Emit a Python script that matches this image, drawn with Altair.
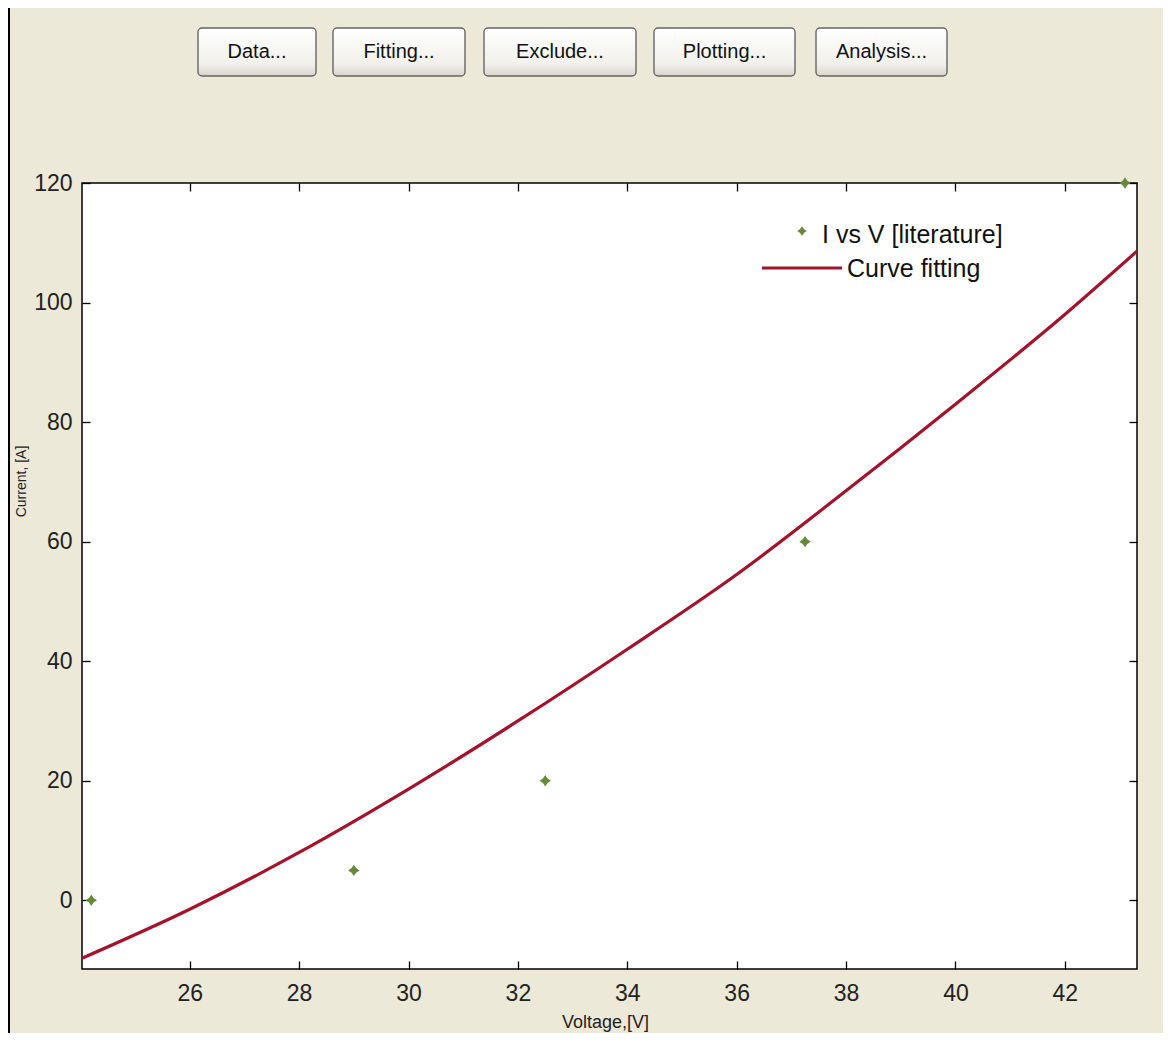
import altair as alt
import pandas as pd

# ---------------- data ----------------
fit_voltage = [24.03, 26, 28, 30, 32, 34, 36, 38, 40, 42, 43.32]
fit_current = [-9.7, -1.5, 8.0, 18.6, 30.0, 42.0, 54.5, 68.5, 83.0, 98.0, 108.6]
lit_voltage = [24.2, 29.0, 32.5, 37.25, 43.1]
lit_current = [0, 5, 20, 60, 120]
x_ticks = [26, 28, 30, 32, 34, 36, 38, 40, 42]
y_ticks = [0, 20, 40, 60, 80, 100, 120]
button_labels = ["Data...", "Fitting...", "Exclude...", "Plotting...", "Analysis..."]
legend_labels = ["I vs V [literature]", "Curve fitting"]
x_title = "Voltage,[V]"
y_title = "Current, [A]"

fit_df = pd.DataFrame({"V": fit_voltage, "I": fit_current})
lit_df = pd.DataFrame({"V": lit_voltage, "I": lit_current})

# ---------------- layout (pixels) ----------------
W, H = 1055, 786
TOTAL_W, TOTAL_H = 1155, 1025
PAD = {"left": 74, "top": 175, "right": TOTAL_W - 74 - W, "bottom": TOTAL_H - 175 - H}
OX, OY = 82, 183  # page position of plot origin
def px(x):
    return x - OX
def py(y):
    return y - OY

FONT = "Liberation Sans, Arial, Helvetica, sans-serif"
RED = "#A3132B"
GREEN = "#66893A"
STAR = "M0,-1L0.4,-0.4L1,0L0.4,0.4L0,1L-0.4,0.4L-1,0L-0.4,-0.4Z"

xs = alt.Scale(domain=[24.03, 43.32], nice=False, zero=False)
ys = alt.Scale(domain=[-11.5, 120], nice=False, zero=False)

tick_axis = dict(labels=False, domain=False, grid=False, ticks=True, tickSize=8,
                 tickColor="black", tickWidth=1.3, title=None)

line = alt.Chart(fit_df).mark_line(color=RED, strokeWidth=3.2, interpolate="monotone").encode(
    x=alt.X("V:Q", scale=xs, axis=alt.Axis(
        orient="bottom", values=x_ticks, ticks=False, domain=False, grid=False,
        labelFont=FONT, labelFontSize=23, labelColor="#222", labelPadding=13,
        labelFlush=False, labelOverlap=False,
        title=x_title, titleFont=FONT, titleFontSize=18, titleFontWeight="normal",
        titleColor="#222", titleX=523, titleY=58, titleBaseline="alphabetic",
        titleAlign="center")),
    y=alt.Y("I:Q", scale=ys, axis=alt.Axis(
        orient="left", values=y_ticks, ticks=False, domain=False, grid=False,
        labelFont=FONT, labelFontSize=23, labelColor="#222", labelPadding=10,
        labelFlush=False, labelOverlap=False,
        title=y_title, titleFont=FONT, titleFontSize=14, titleFontWeight="normal",
        titleColor="#222", titleX=-61, titleY=298, titleAngle=270,
        titleBaseline="middle", titleAlign="center")),
)

points = alt.Chart(lit_df).mark_point(shape=STAR, filled=True, size=130, color=GREEN, opacity=1).encode(
    x=alt.X("V:Q", scale=xs, axis=alt.Axis(orient="top", offset=-H, values=x_ticks, **tick_axis)),
    y=alt.Y("I:Q", scale=ys, axis=alt.Axis(orient="right", offset=-W, values=y_ticks, **tick_axis)),
)

ticks2 = alt.Chart(lit_df).mark_point(opacity=0).encode(
    x=alt.X("V:Q", scale=xs, axis=alt.Axis(orient="bottom", offset=-H, values=x_ticks, **tick_axis)),
    y=alt.Y("I:Q", scale=ys, axis=alt.Axis(orient="left", offset=-W, values=y_ticks, **tick_axis)),
)

layers = [line, points, ticks2]

# legend
leg1 = pd.DataFrame({"label": [legend_labels[0]]})
leg2 = pd.DataFrame({"label": [legend_labels[1]]})
layers.append(alt.Chart(leg1).mark_point(shape=STAR, filled=True, size=90, color=GREEN, opacity=1).encode(
    x=alt.value(px(802)), y=alt.value(py(231))))
layers.append(alt.Chart(leg1).mark_text(align="left", baseline="alphabetic", font=FONT, fontSize=25, color="#111").encode(
    x=alt.value(px(822)), y=alt.value(py(243)), text="label:N"))
layers.append(alt.Chart(leg2).mark_rule(color=RED, strokeWidth=3.2).encode(
    x=alt.value(px(762)), x2=alt.value(px(842)), y=alt.value(py(268))))
layers.append(alt.Chart(leg2).mark_text(align="left", baseline="alphabetic", font=FONT, fontSize=25, color="#111").encode(
    x=alt.value(px(847)), y=alt.value(py(277)), text="label:N"))

# buttons
button_left = [198, 333, 484, 654, 816]
button_right = [316, 465, 636, 795, 947]
btn_top, btn_bottom = 28, 76
grad = alt.LinearGradient(gradient="linear", x1=0, x2=0, y1=0, y2=1, stops=[
    alt.GradientStop(offset=0, color="#FFFFFF"),
    alt.GradientStop(offset=0.75, color="#F1F0EB"),
    alt.GradientStop(offset=1, color="#D9D5CB")])
for lbl, l, r in zip(button_labels, button_left, button_right):
    bdf = pd.DataFrame({"label": [lbl]})
    layers.append(alt.Chart(bdf).mark_rect(fill=grad, stroke="#666666", strokeWidth=1.4, cornerRadius=4).encode(
        x=alt.value(px(l)), x2=alt.value(px(r)), y=alt.value(py(btn_top)), y2=alt.value(py(btn_bottom))))
    layers.append(alt.Chart(bdf).mark_text(align="center", baseline="middle", font=FONT, fontSize=20, color="#111").encode(
        x=alt.value(px((l + r) / 2)), y=alt.value(py(52)), text="label:N"))

# window border on the left
border = pd.DataFrame({"label": ["border"]})
layers.append(alt.Chart(border).mark_rule(color="black", strokeWidth=2).encode(
    x=alt.value(px(9)), y=alt.value(py(8)), y2=alt.value(py(1045))))

chart = alt.layer(*layers).resolve_axis(x="independent", y="independent").properties(
    width=W, height=H, padding=PAD, autosize=alt.AutoSizeParams(type="none"),
    background="#ECE9D8",
).configure_view(fill="white", stroke="black", strokeWidth=1.5)

chart.save("out.html", embed_options={"renderer": "svg", "actions": False})
